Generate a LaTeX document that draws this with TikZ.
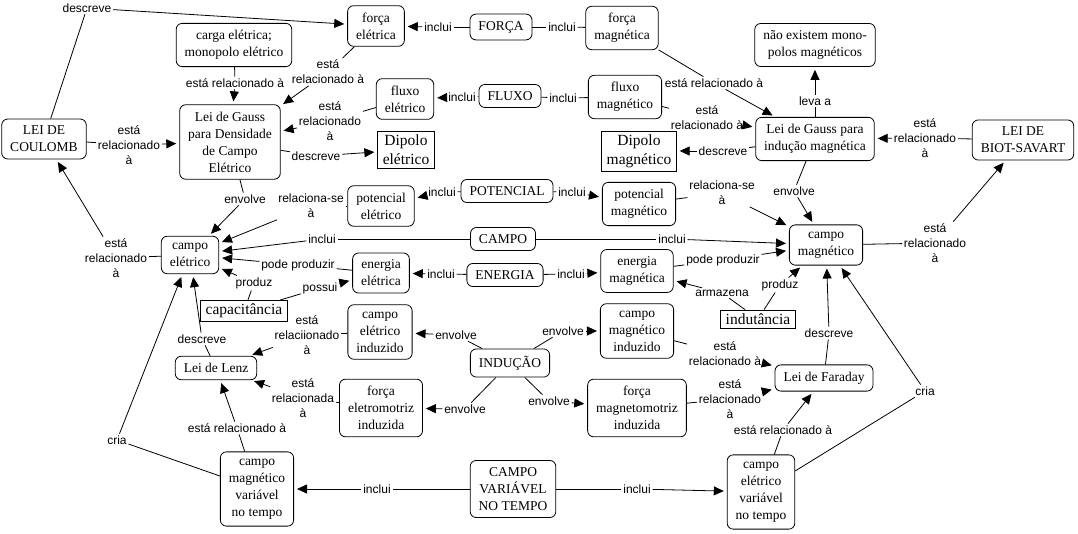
\documentclass[tikz,border=0pt]{standalone}
\usepackage{fontspec}
\usetikzlibrary{arrows.meta}
\newfontfamily\serifa{Liberation Serif}
\newfontfamily\sansa{Liberation Sans}
\newcommand{\fonteconceito}{\serifa\fontsize{13.5}{17}\selectfont}
\newcommand{\fontecaixa}{\serifa\fontsize{15.5}{19}\selectfont}
\newcommand{\fonterotulo}{\sansa\fontsize{12}{15}\selectfont}
\tikzset{
  conceito/.style={draw, rounded corners=6pt, align=center, font=\fonteconceito, inner xsep=8.5pt, inner ysep=7pt},
  caixa/.style={draw, align=center, font=\fontecaixa, inner xsep=5pt, inner ysep=3.5pt},
  rotulo/.style={align=center, font=\fonterotulo, inner sep=1.5pt},
  liga/.style={-{Triangle[length=10pt,width=9pt]}, shorten >=3pt}
}
\begin{document}
\begin{tikzpicture}[x=1pt, y=-1pt, line width=0.8pt]
      \useasboundingbox (0,0) rectangle (1078,534);
      \node[conceito] (coulomb) at (44,139) {LEI DE\\COULOMB};
      \node[conceito] (forcaE) at (376,26) {força\\elétrica};
      \node[conceito] (forca) at (501,27) {FORÇA};
      \node[conceito] (forcaM) at (622,28) {força\\magnética};
      \node[conceito] (carga) at (234,45) {carga elétrica;\\monopolo elétrico};
      \node[conceito] (gaussE) at (230,142) {Lei de Gauss\\para Densidade\\de Campo\\Elétrico};
      \node[conceito] (fluxoE) at (405,99) {fluxo\\elétrico};
      \node[conceito] (fluxo) at (510,96) {FLUXO};
      \node[conceito] (fluxoM) at (625,97) {fluxo\\magnético};
      \node[caixa] (dipoloE) at (406,150) {Dipolo\\elétrico};
      \node[conceito] (naoMono) at (815,45) {não existem mono-\\polos magnéticos};
      \node[conceito] (gaussB) at (815,139) {Lei de Gauss para\\indução magnética};
      \node[caixa] (dipoloM) at (639,151) {Dipolo\\magnético};
      \node[conceito] (biot) at (1023,140) {LEI DE\\BIOT-SAVART};
      \node[conceito] (potE) at (381,206) {potencial\\elétrico};
      \node[conceito] (potencial) at (507,191) {POTENCIAL};
      \node[conceito] (potM) at (639,204) {potencial\\magnético};
      \node[conceito] (campoE) at (190,255) {campo\\elétrico};
      \node[conceito] (campo) at (503,239) {CAMPO};
      \node[conceito] (campoM) at (826,245) {campo\\magnético};
      \node[conceito] (energiaE) at (381,273) {energia\\elétrica};
      \node[conceito] (energia) at (505,275) {ENERGIA};
      \node[conceito] (energiaM) at (637,271) {energia\\magnética};
      \node[caixa] (capac) at (244,311) {capacitância};
      \node[caixa] (indut) at (758,319) {indutância};
      \node[conceito] (campoEInd) at (380,332) {campo\\elétrico\\induzido};
      \node[conceito] (inducao) at (510,363) {INDUÇÃO};
      \node[conceito] (campoMInd) at (637,331) {campo\\magnético\\induzido};
      \node[conceito] (lenz) at (216,368) {Lei de Lenz};
      \node[conceito] (femInd) at (381,408) {força\\eletromotriz\\induzida};
      \node[conceito] (fmmInd) at (637,408) {força\\magnetomotriz\\induzida};
      \node[conceito] (faraday) at (824,378) {Lei de Faraday};
      \node[conceito] (campoMVar) at (257,489) {campo\\magnético\\variável\\no tempo};
      \node[conceito] (campoVar) at (513,489) {CAMPO\\VARIÁVEL\\NO TEMPO};
      \node[conceito] (campoEVar) at (761,492) {campo\\elétrico\\variável\\no tempo};
      \node[rotulo] (r1) at (87,8) {descreve};
      \node[rotulo] (r2) at (438,27) {inclui};
      \node[rotulo] (r3) at (562,27) {inclui};
      \node[rotulo] (r4) at (235,83) {está relacionado à};
      \node[rotulo] (r5) at (328,72) {está\\relacionado à};
      \node[rotulo] (r6) at (129,145) {está\\relacionado\\à};
      \node[rotulo] (r7) at (462,97) {inclui};
      \node[rotulo] (r8) at (563,98) {inclui};
      \node[rotulo] (r9) at (330,121) {está\\relacionado\\à};
      \node[rotulo] (r10) at (316,156) {descreve};
      \node[rotulo] (r11) at (714,83) {está relacionado à};
      \node[rotulo] (r12) at (707,118) {está\\relacionado à};
      \node[rotulo] (r13) at (723,151) {descreve};
      \node[rotulo] (r14) at (815,101) {leva a};
      \node[rotulo] (r15) at (925,138) {está\\relacionado\\à};
      \node[rotulo] (r16) at (794,191) {envolve};
      \node[rotulo] (r17) at (935,243) {está\\relacionado\\à};
      \node[rotulo] (r18) at (442,192) {inclui};
      \node[rotulo] (r19) at (572,192) {inclui};
      \node[rotulo] (r20) at (311,206) {relaciona-se\\à};
      \node[rotulo] (r21) at (722,193) {relaciona-se\\à};
      \node[rotulo] (r22) at (245,199) {envolve};
      \node[rotulo] (r23) at (322,239) {inclui};
      \node[rotulo] (r24) at (672,239) {inclui};
      \node[rotulo] (r25) at (441,274) {inclui};
      \node[rotulo] (r26) at (571,274) {inclui};
      \node[rotulo] (r27) at (298,265) {pode produzir};
      \node[rotulo] (r28) at (723,260) {pode produzir};
      \node[rotulo] (r29) at (254,283) {produz};
      \node[rotulo] (r30) at (320,288) {possui};
      \node[rotulo] (r31) at (722,293) {armazena};
      \node[rotulo] (r32) at (780,285) {produz};
      \node[rotulo] (r33) at (456,335) {envolve};
      \node[rotulo] (r34) at (563,331) {envolve};
      \node[rotulo] (r35) at (465,409) {envolve};
      \node[rotulo] (r36) at (549,401) {envolve};
      \node[rotulo] (r37) at (202,339) {descreve};
      \node[rotulo] (r38) at (307,335) {está\\relaciionado\\à};
      \node[rotulo] (r39) at (303,398) {está\\relacionada\\à};
      \node[rotulo] (r40) at (237,428) {está relacionado à};
      \node[rotulo] (r41) at (117,440) {cria};
      \node[rotulo] (r42) at (377,489) {inclui};
      \node[rotulo] (r43) at (637,489) {inclui};
      \node[rotulo] (r44) at (783,430) {está relacionado à};
      \node[rotulo] (r45) at (925,391) {cria};
      \node[rotulo] (r46) at (829,333) {descreve};
      \node[rotulo] (r47) at (725,354) {está\\relacionado à};
      \node[rotulo] (r48) at (730,399) {está\\relacionado\\à};
      \node[rotulo] (r49) at (116,258) {está\\relacionado\\à};
      \draw (coulomb) -- (r1); \draw[liga] (r1) -- (forcaE);
      \draw (forca) -- (r2); \draw[liga] (r2) -- (forcaE);
      \draw (forca) -- (r3); \draw (r3) -- (forcaM);
      \draw (carga) -- (r4); \draw[liga] (r4) -- (gaussE);
      \draw (forcaE) -- (r5); \draw[liga] (r5) -- (gaussE);
      \draw (coulomb) -- (r6); \draw[liga] (r6) -- (gaussE);
      \draw (fluxo) -- (r7); \draw[liga] (r7) -- (fluxoE);
      \draw (fluxo) -- (r8); \draw (r8) -- (fluxoM);
      \draw (fluxoE) -- (r9); \draw[liga] (r9) -- (gaussE);
      \draw (gaussE) -- (r10); \draw[liga] (r10) -- (dipoloE);
      \draw (forcaM) -- (r11); \draw[liga] (r11) -- (gaussB);
      \draw (fluxoM) -- (r12); \draw[liga] (r12) -- (gaussB);
      \draw (gaussB) -- (r13); \draw[liga] (r13) -- (dipoloM);
      \draw (gaussB) -- (r14); \draw[liga] (r14) -- (naoMono);
      \draw (biot) -- (r15); \draw[liga] (r15) -- (gaussB);
      \draw (gaussB) -- (r16); \draw[liga] (r16) -- (campoM);
      \draw (campoM) -- (r17); \draw[liga] (r17) -- (biot);
      \draw (potencial) -- (r18); \draw[liga] (r18) -- (potE);
      \draw (potencial) -- (r19); \draw[liga] (r19) -- (potM);
      \draw (potE) -- (r20); \draw[liga] (r20) -- (campoE);
      \draw (potM) -- (r21); \draw[liga] (r21) -- (campoM);
      \draw (gaussE) -- (r22); \draw[liga] (r22) -- (campoE);
      \draw (campo) -- (r23); \draw[liga] (r23) -- (campoE);
      \draw (campo) -- (r24); \draw[liga] (r24) -- (campoM);
      \draw (energia) -- (r25); \draw[liga] (r25) -- (energiaE);
      \draw (energia) -- (r26); \draw[liga] (r26) -- (energiaM);
      \draw (energiaE) -- (r27); \draw[liga] (r27) -- (campoE);
      \draw (energiaM) -- (r28); \draw[liga] (r28) -- (campoM);
      \draw (capac) -- (r29); \draw[liga] (r29) -- (campoE);
      \draw (capac) -- (r30); \draw[liga] (r30) -- (energiaE);
      \draw (indut) -- (r31); \draw[liga] (r31) -- (energiaM);
      \draw (indut) -- (r32); \draw[liga] (r32) -- (campoM);
      \draw (inducao) -- (r33); \draw[liga] (r33) -- (campoEInd);
      \draw (inducao) -- (r34); \draw[liga] (r34) -- (campoMInd);
      \draw (inducao) -- (r35); \draw[liga] (r35) -- (femInd);
      \draw (inducao) -- (r36); \draw[liga] (r36) -- (fmmInd);
      \draw (lenz) -- (r37); \draw[liga] (r37) -- (campoE);
      \draw (campoEInd) -- (r38); \draw[liga] (r38) -- (lenz);
      \draw (femInd) -- (r39); \draw[liga] (r39) -- (lenz);
      \draw (campoMVar) -- (r40); \draw[liga] (r40) -- (lenz);
      \draw (campoMVar) -- (r41); \draw[liga] (r41) -- (campoE);
      \draw (campoVar) -- (r42); \draw[liga] (r42) -- (campoMVar);
      \draw (campoVar) -- (r43); \draw[liga] (r43) -- (campoEVar);
      \draw (campoEVar) -- (r44); \draw[liga] (r44) -- (faraday);
      \draw (campoEVar) -- (r45); \draw[liga] (r45) -- (campoM);
      \draw (faraday) -- (r46); \draw[liga] (r46) -- (campoM);
      \draw (campoMInd) -- (r47); \draw[liga] (r47) -- (faraday);
      \draw (fmmInd) -- (r48); \draw[liga] (r48) -- (faraday);
      \draw (campoE) -- (r49); \draw[liga] (r49) -- (coulomb);
    \end{tikzpicture}
\end{document}
